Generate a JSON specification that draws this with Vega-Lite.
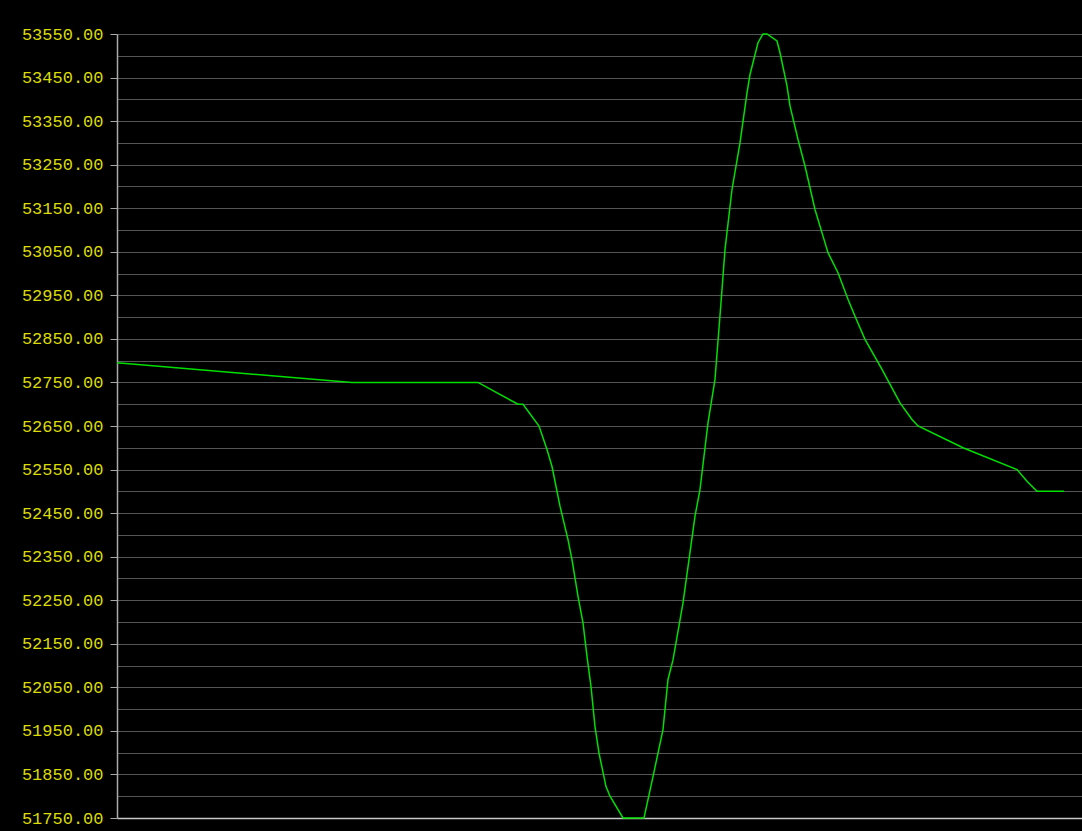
{
  "$schema": "https://vega.github.io/schema/vega-lite/v6.json",
  "autosize": "none",
  "width": 965,
  "height": 784,
  "padding": {"left": 117, "top": 34, "right": 0, "bottom": 13},
  "background": "#000000",
  "config": {"view": {"stroke": null}},
  "data": {"values": [
    {"t": 0, "price": 52795}, {"t": 235, "price": 52750}, {"t": 361, "price": 52750},
    {"t": 401, "price": 52700}, {"t": 406, "price": 52700}, {"t": 422, "price": 52650},
    {"t": 430, "price": 52596}, {"t": 435, "price": 52557}, {"t": 443, "price": 52466},
    {"t": 451, "price": 52389}, {"t": 455, "price": 52343}, {"t": 461, "price": 52259},
    {"t": 466, "price": 52198}, {"t": 470, "price": 52121}, {"t": 474, "price": 52052},
    {"t": 478, "price": 51960}, {"t": 482, "price": 51899}, {"t": 489, "price": 51822},
    {"t": 493, "price": 51800}, {"t": 506, "price": 51750}, {"t": 527, "price": 51750},
    {"t": 536, "price": 51845}, {"t": 546, "price": 51953}, {"t": 551, "price": 52068},
    {"t": 556, "price": 52113}, {"t": 566, "price": 52244}, {"t": 572, "price": 52343},
    {"t": 578, "price": 52443}, {"t": 583, "price": 52504}, {"t": 591, "price": 52657},
    {"t": 598, "price": 52757}, {"t": 604, "price": 52933}, {"t": 608, "price": 53055},
    {"t": 615, "price": 53193}, {"t": 623, "price": 53300}, {"t": 630, "price": 53415},
    {"t": 633, "price": 53457}, {"t": 641, "price": 53530}, {"t": 646, "price": 53550},
    {"t": 650, "price": 53550}, {"t": 660, "price": 53534}, {"t": 663, "price": 53507},
    {"t": 670, "price": 53431}, {"t": 673, "price": 53385}, {"t": 681, "price": 53308},
    {"t": 688, "price": 53247}, {"t": 698, "price": 53147}, {"t": 706, "price": 53086},
    {"t": 711, "price": 53048}, {"t": 721, "price": 53002}, {"t": 731, "price": 52941},
    {"t": 738, "price": 52902}, {"t": 748, "price": 52849}, {"t": 765, "price": 52780},
    {"t": 783, "price": 52703}, {"t": 795, "price": 52665}, {"t": 801, "price": 52650},
    {"t": 846, "price": 52600}, {"t": 900, "price": 52550}, {"t": 910, "price": 52523},
    {"t": 920, "price": 52500}, {"t": 947, "price": 52500}
  ]},
  "mark": {"type": "line", "color": "#00e000", "strokeWidth": 1.5, "interpolate": "linear"},
  "encoding": {
    "x": {
      "field": "t", "type": "quantitative",
      "scale": {"domain": [0, 965], "nice": false, "zero": false},
      "axis": {"title": null, "labels": false, "ticks": false, "grid": false, "domain": true, "domainColor": "#c8c8c8", "domainWidth": 1.5}
    },
    "y": {
      "field": "price", "type": "quantitative",
      "scale": {"domain": [51750, 53550], "nice": false, "zero": false},
      "axis": {
        "title": null,
        "values": [51750, 51800, 51850, 51900, 51950, 52000, 52050, 52100, 52150, 52200, 52250, 52300, 52350, 52400, 52450, 52500, 52550, 52600, 52650, 52700, 52750, 52800, 52850, 52900, 52950, 53000, 53050, 53100, 53150, 53200, 53250, 53300, 53350, 53400, 53450, 53500, 53550],
        "labelExpr": "datum.value % 100 == 50 ? format(datum.value, '.2f') : ''",
        "labelFont": "Liberation Mono",
        "labelFontSize": 17,
        "labelColor": "#dcdc00",
        "labelPadding": 7,
        "tickSize": 7,
        "tickColor": "#aaaaaa",
        "tickOpacity": {"condition": {"test": "datum.value % 100 == 50", "value": 1}, "value": 0},
        "domainColor": "#aaaaaa",
        "domainWidth": 1.5,
        "grid": true,
        "gridColor": "#555555",
        "gridWidth": 1.2,
        "labelFlush": false,
        "labelOverlap": false
      }
    }
  }
}
